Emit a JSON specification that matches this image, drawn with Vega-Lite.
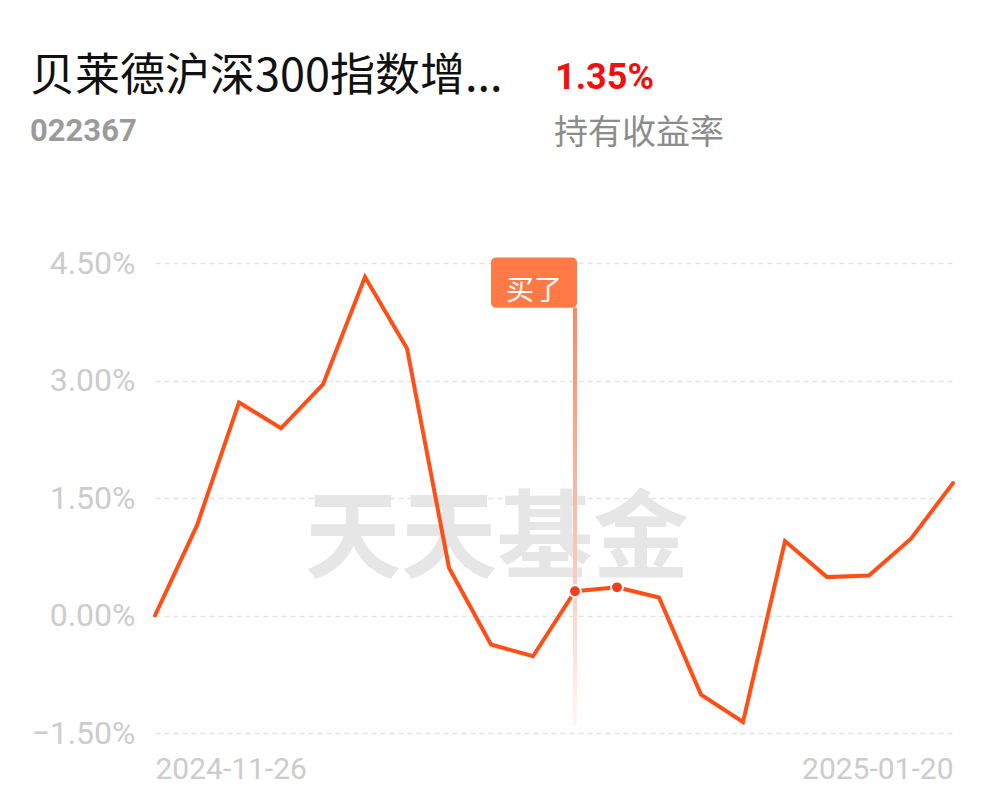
{
  "$schema": "https://vega.github.io/schema/vega-lite/v6.json",
  "width": 798,
  "height": 470,
  "autosize": {"type": "none"},
  "padding": {"left": 155, "top": 263, "right": 44, "bottom": 69},
  "background": "#ffffff",
  "data": {
    "values": [
      {"date": "2024-11-26", "v": 0.00},
      {"date": "2024-11-28", "v": 1.15},
      {"date": "2024-12-02", "v": 2.72},
      {"date": "2024-12-04", "v": 2.39},
      {"date": "2024-12-06", "v": 2.95},
      {"date": "2024-12-10", "v": 4.32},
      {"date": "2024-12-12", "v": 3.41},
      {"date": "2024-12-16", "v": 0.61},
      {"date": "2024-12-18", "v": -0.37},
      {"date": "2024-12-20", "v": -0.52},
      {"date": "2024-12-24", "v": 0.31},
      {"date": "2024-12-26", "v": 0.36},
      {"date": "2024-12-30", "v": 0.23},
      {"date": "2025-01-02", "v": -1.01},
      {"date": "2025-01-06", "v": -1.36},
      {"date": "2025-01-08", "v": 0.95},
      {"date": "2025-01-10", "v": 0.49},
      {"date": "2025-01-14", "v": 0.51},
      {"date": "2025-01-16", "v": 0.98},
      {"date": "2025-01-20", "v": 1.69}
    ]
  },
  "encoding": {
    "x": {
      "field": "date",
      "type": "ordinal",
      "scale": {
        "type": "point",
        "padding": 0,
        "domain": ["2024-11-26", "2024-11-28", "2024-12-02", "2024-12-04", "2024-12-06", "2024-12-10", "2024-12-12", "2024-12-16", "2024-12-18", "2024-12-20", "2024-12-24", "2024-12-26", "2024-12-30", "2025-01-02", "2025-01-06", "2025-01-08", "2025-01-10", "2025-01-14", "2025-01-16", "2025-01-20"]
      },
      "axis": {
        "title": null,
        "domain": false,
        "ticks": false,
        "grid": false,
        "labelAngle": 0,
        "labelFlush": true,
        "labelOverlap": false,
        "labelExpr": "datum.value == '2024-11-26' || datum.value == '2025-01-20' ? datum.value : ''",
        "labelFont": "Roboto",
        "labelFontSize": 30,
        "labelColor": "#cccccc",
        "labelPadding": 21
      }
    },
    "y": {
      "field": "v",
      "type": "quantitative",
      "scale": {"domain": [-1.5, 4.5], "nice": false, "zero": false},
      "axis": {
        "title": null,
        "domain": false,
        "ticks": false,
        "values": [-1.5, 0, 1.5, 3, 4.5],
        "labelExpr": "format(datum.value, '.2f') + '%'",
        "labelFont": "Roboto",
        "labelFontSize": 32,
        "labelColor": "#cccccc",
        "labelPadding": 20,
        "grid": true,
        "gridColor": "#e3e3e3",
        "gridWidth": 1.5,
        "gridDash": [5, 4]
      }
    }
  },
  "layer": [
    {
      "transform": [{"filter": "datum.date == '2024-12-18'"}],
      "mark": {"type": "text", "text": "天天基金", "font": "Noto Sans CJK SC", "fontWeight": "bold", "fontSize": 96, "color": "#e6e6e6", "align": "center", "baseline": "middle", "dx": 6},
      "encoding": {
        "y": {"datum": 0.95, "type": "quantitative"}
      }
    },
    {
      "transform": [{"filter": "datum.date == '2024-12-24'"}],
      "mark": {
        "type": "bar",
        "width": 4,
        "color": {
          "gradient": "linear",
          "x1": 0, "y1": 0, "x2": 0, "y2": 1,
          "stops": [
            {"offset": 0, "color": "#f98a63"},
            {"offset": 0.55, "color": "#fbc2b0"},
            {"offset": 1, "color": "#fff6f3"}
          ]
        }
      },
      "encoding": {
        "y": {"datum": 3.93, "type": "quantitative"},
        "y2": {"datum": -1.4}
      }
    },
    {
      "mark": {"type": "line", "color": "#ff4f17", "strokeWidth": 4, "strokeCap": "round", "strokeJoin": "miter"}
    },
    {
      "transform": [{"filter": {"field": "date", "oneOf": ["2024-12-24", "2024-12-26"]}}],
      "mark": {"type": "point", "filled": true, "size": 140, "color": "#f03c1f", "stroke": "#ffffff", "strokeWidth": 2, "opacity": 1}
    },
    {
      "transform": [{"filter": "datum.date == '2024-12-24'"}],
      "mark": {"type": "bar", "width": 86, "xOffset": -41, "cornerRadius": 5, "color": "#ff7a47"},
      "encoding": {
        "y": {"datum": 4.57, "type": "quantitative"},
        "y2": {"datum": 3.93}
      }
    },
    {
      "transform": [{"filter": "datum.date == '2024-12-24'"}],
      "mark": {"type": "text", "text": "买了", "font": "Noto Sans CJK SC", "fontSize": 28, "color": "#ffffff", "align": "center", "baseline": "middle", "dx": -41},
      "encoding": {
        "y": {"datum": 4.13, "type": "quantitative"}
      }
    },
    {
      "transform": [{"filter": "datum.date == '2024-11-26'"}],
      "mark": {"type": "text", "text": "贝莱德沪深300指数增...", "font": "Noto Sans CJK SC", "fontSize": 45, "color": "#111111", "align": "left", "baseline": "middle", "dx": -125},
      "encoding": {
        "y": {"datum": 6.87, "type": "quantitative"}
      }
    },
    {
      "transform": [{"filter": "datum.date == '2024-11-26'"}],
      "mark": {"type": "text", "text": "022367", "font": "Roboto", "fontWeight": "bold", "fontSize": 31, "color": "#9b9b9b", "align": "left", "baseline": "middle", "dx": -125},
      "encoding": {
        "y": {"datum": 6.17, "type": "quantitative"}
      }
    },
    {
      "transform": [{"filter": "datum.date == '2024-12-20'"}],
      "mark": {"type": "text", "text": "1.35%", "font": "Roboto", "fontWeight": "bold", "fontSize": 36, "color": "#f01010", "align": "left", "baseline": "middle", "dx": 22},
      "encoding": {
        "y": {"datum": 6.86, "type": "quantitative"}
      }
    },
    {
      "transform": [{"filter": "datum.date == '2024-12-20'"}],
      "mark": {"type": "text", "text": "持有收益率", "font": "Noto Sans CJK SC", "fontSize": 34, "color": "#8c8c8c", "align": "left", "baseline": "middle", "dx": 21},
      "encoding": {
        "y": {"datum": 6.15, "type": "quantitative"}
      }
    }
  ],
  "config": {"view": {"stroke": null}}
}
